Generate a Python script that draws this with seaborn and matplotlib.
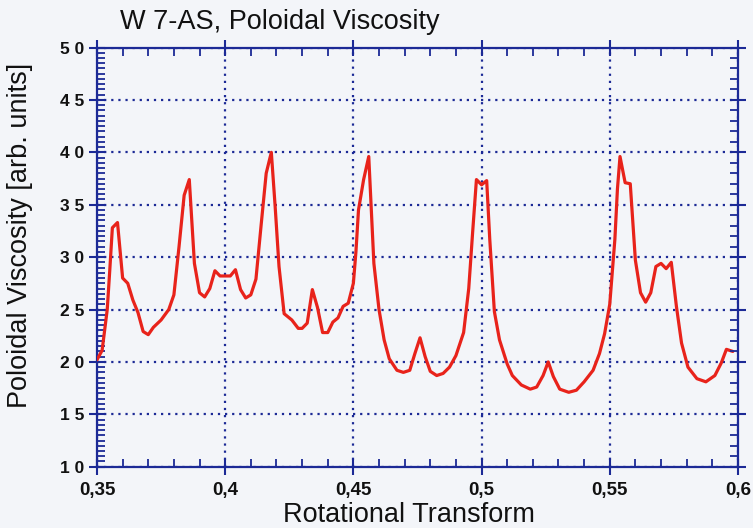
import numpy as np
import pandas as pd
import matplotlib
matplotlib.use("Agg")
import matplotlib.pyplot as plt
from matplotlib.ticker import MultipleLocator, FixedLocator, FixedFormatter
import seaborn as sns

# ---- data ----
iota = [0.350, 0.352, 0.354, 0.355, 0.356, 0.358, 0.360, 0.362, 0.364, 0.366,
        0.368, 0.370, 0.372, 0.375, 0.378, 0.380, 0.382, 0.384, 0.386, 0.388,
        0.390, 0.392, 0.394, 0.396, 0.398, 0.400, 0.402, 0.404, 0.406, 0.408,
        0.410, 0.412, 0.414, 0.416, 0.418, 0.4195, 0.421, 0.423, 0.426, 0.4285,
        0.430, 0.432, 0.434, 0.436, 0.438, 0.440, 0.442, 0.444, 0.446, 0.448,
        0.450, 0.451, 0.452, 0.454, 0.456, 0.458, 0.460, 0.462, 0.464, 0.467,
        0.4695, 0.472, 0.474, 0.476, 0.478, 0.480, 0.4825, 0.485, 0.4875, 0.490,
        0.493, 0.495, 0.4965, 0.498, 0.500, 0.502, 0.5032, 0.505, 0.507, 0.510,
        0.512, 0.5155, 0.519, 0.5215, 0.524, 0.526, 0.528, 0.5305, 0.534, 0.537,
        0.540, 0.5435, 0.546, 0.548, 0.550, 0.552, 0.553, 0.554, 0.556, 0.558,
        0.560, 0.562, 0.564, 0.566, 0.568, 0.570, 0.572, 0.574, 0.576, 0.578,
        0.5805, 0.584, 0.5875, 0.591, 0.5935, 0.5955, 0.598]
viscosity = [20.2, 21.1, 25.0, 28.8, 32.8, 33.3, 28.0, 27.5, 25.9, 24.7,
             22.9, 22.6, 23.3, 24.0, 25.0, 26.4, 31.0, 35.9, 37.4, 29.4,
             26.6, 26.2, 27.0, 28.7, 28.2, 28.2, 28.2, 28.8, 26.9, 26.1,
             26.4, 27.9, 33.0, 38.0, 40.0, 34.8, 29.1, 24.6, 24.0, 23.2,
             23.2, 23.7, 26.9, 25.2, 22.8, 22.8, 23.8, 24.2, 25.3, 25.6,
             27.5, 30.5, 34.5, 37.4, 39.6, 29.4, 25.0, 22.1, 20.3, 19.2,
             19.0, 19.2, 20.8, 22.3, 20.5, 19.1, 18.7, 18.9, 19.5, 20.6,
             22.8, 27.0, 32.3, 37.4, 36.9, 37.3, 31.7, 24.8, 22.1, 19.8,
             18.7, 17.8, 17.4, 17.6, 18.7, 20.0, 18.6, 17.4, 17.1, 17.3,
             18.1, 19.2, 20.8, 22.7, 25.5, 31.7, 36.5, 39.6, 37.1, 37.0,
             29.7, 26.6, 25.7, 26.6, 29.1, 29.4, 28.9, 29.5, 25.3, 21.8,
             19.5, 18.4, 18.1, 18.7, 19.9, 21.2, 21.0]

x_ticks = [0.35, 0.40, 0.45, 0.50, 0.55, 0.60]
x_tick_labels = ["0,35", "0,4", "0,45", "0,5", "0,55", "0,6"]
y_ticks = [10, 15, 20, 25, 30, 35, 40, 45, 50]
y_tick_labels = ["1 0", "1 5", "2 0", "2 5", "3 0", "3 5", "4 0", "4 5", "5 0"]

title = "W 7-AS, Poloidal Viscosity"
x_label = "Rotational Transform"
y_label = "Poloidal Viscosity [arb. units]"

df = pd.DataFrame({"iota": iota, "visc": viscosity})

# ---- styling ----
sns.set_theme(style="white")
plt.rcParams["font.family"] = ["Liberation Sans", "DejaVu Sans"]

NAVY = "#1c2a96"
BG = "#f3f5f9"

fig = plt.figure(figsize=(7.53, 5.28), dpi=100, facecolor=BG)
ax = fig.add_axes([0.1288, 0.1161, 0.8512, 0.7939])
ax.set_facecolor(BG)

sns.lineplot(data=df, x="iota", y="visc", ax=ax, color="#e8231b",
             linewidth=2.3, sort=False, zorder=5)
ax.lines[-1].set_solid_joinstyle("round")

ax.set_xlim(0.35, 0.60)
ax.set_ylim(10, 50)

ax.xaxis.set_major_locator(FixedLocator(x_ticks))
ax.xaxis.set_major_formatter(FixedFormatter(x_tick_labels))
ax.xaxis.set_minor_locator(MultipleLocator(0.01))
ax.yaxis.set_major_locator(FixedLocator(y_ticks))
ax.yaxis.set_major_formatter(FixedFormatter(y_tick_labels))
ax.yaxis.set_minor_locator(MultipleLocator(0.5))

ax.grid(True, which="major", color=NAVY, linestyle=(0, (1, 2.2)),
        linewidth=1.6)
ax.set_axisbelow(True)

for s in ax.spines.values():
    s.set_color(NAVY)
    s.set_linewidth(1.6)
    s.set_visible(True)

ax.tick_params(axis="both", which="major", direction="inout", length=12,
               width=1.5, color=NAVY, labelcolor="#111111",
               top=True, right=False, bottom=True, left=True)
ax.tick_params(axis="both", which="minor", direction="in", length=6,
               width=1.3, color=NAVY, top=True, right=False, bottom=True,
               left=True)
ax.tick_params(axis="x", which="major", pad=5, labelsize=13.5)
ax.tick_params(axis="y", which="major", pad=3, labelsize=12.5)
for lab in ax.get_yticklabels() + ax.get_xticklabels():
    lab.set_fontweight("bold")

# right axis: minor ticks every 1 unit
ax2 = ax.twinx()
ax2.set_ylim(10, 50)
ax2.yaxis.set_major_locator(FixedLocator(y_ticks))
ax2.yaxis.set_minor_locator(MultipleLocator(1))
ax2.tick_params(axis="y", which="major", direction="inout", length=12,
                width=1.5, color=NAVY, labelright=False)
ax2.tick_params(axis="y", which="minor", direction="in", length=6,
                width=1.3, color=NAVY)
for s in ax2.spines.values():
    s.set_visible(False)
ax2.grid(False)

ax.set_xlabel("")
ax.set_ylabel("")
fig.text(0.159, 0.958, title, fontsize=19.5, ha="left", va="center",
         color="#111111")
fig.text(0.543, 0.025, x_label, fontsize=19.5, ha="center", va="center",
         color="#111111")
fig.text(0.026, 0.555, y_label, fontsize=19.5, ha="center", va="center",
         rotation=90, color="#111111")

fig.savefig("out.png", dpi=100, facecolor=BG)
